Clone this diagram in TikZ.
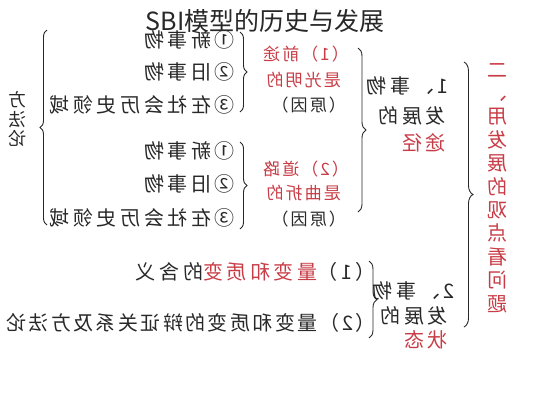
\documentclass[tikz,border=0pt]{standalone}
\usepackage{fontspec}
\usetikzlibrary{decorations.pathreplacing}
\newfontfamily\cjk[LetterSpace=18]{Noto Sans CJK SC}
\newfontfamily\cjkred[LetterSpace=12]{Noto Sans CJK SC}
\newfontfamily\ttl{Noto Sans CJK SC}
\definecolor{ink}{RGB}{40,40,40}
\definecolor{hl}{RGB}{200,60,70}

\begin{document}
\begin{tikzpicture}[x=1pt,y=-1pt,
    mir/.style={xscale=-1,inner sep=0pt},
    row/.style={mir,anchor=west,text=ink,font=\cjk\fontsize{20}{24}\selectfont},
    why/.style={mir,anchor=west,text=hl,font=\cjkred\fontsize{17}{20}\selectfont},
    brc/.style={draw=ink,line width=0.9pt,decorate,decoration={brace,amplitude=#1}},
    brc/.default=7pt]
  \useasboundingbox (0,0) rectangle (533,400);
  \node[font=\ttl\fontsize{25}{29}\selectfont,text=ink] (title) at (265,21) {SBI模型的历史与发展};
  % right column and left column
  \node[mir,text=hl,align=center,font=\cjkred\fontsize{20}{23.4}\selectfont] (topic) at (497,188) {二\\、\\用\\发\\展\\的\\观\\点\\看\\问\\题};
  \node[mir,text=ink,align=center,font=\cjkred\fontsize{18}{19.5}\selectfont] (method) at (17,119) {方\\法\\论};
  % 1, path of development
  \node[row] (way1) at (449,86) {1、事物};
  \node[row] (way2) at (446,116) {发展的};
  \node[row,text=hl] (way3) at (446,143) {途径};
  \node[why] (bright1) at (349,54) {（1）前途};
  \node[why] (bright2) at (341,80) {是光明的};
  \node[why,text=ink] (bright3) at (346,105) {（原因）};
  \node[why] (twist1) at (349,169) {（2）道路};
  \node[why] (twist2) at (341,193) {是曲折的};
  \node[why,text=ink] (twist3) at (346,219) {（原因）};
  \node[row] (newa) at (235,40) {①新事物};
  \node[row] (olda) at (235,72) {②旧事物};
  \node[row] (soca) at (235,105) {③在社会历史领域};
  \node[row] (newb) at (235,151) {①新事物};
  \node[row] (oldb) at (235,184) {②旧事物};
  \node[row] (socb) at (235,218) {③在社会历史领域};
  % 2, state of development
  \node[row] (state1) at (455,291) {2、事物};
  \node[row] (state2) at (448,316) {发展的};
  \node[row,text=hl] (state3) at (448,340) {状态};
  \node[row] (meaning) at (376,272) {（1）\textcolor{hl}{量变和质变}的含义};
  \node[row,font=\cjkred\fontsize{20}{24}\selectfont] (relation) at (376,323) {（2）量变和质变的辩证关系及方法论};
  % braces
  \coordinate (ta) at (464,62);  \coordinate (tb) at (464,327);
  \coordinate (wa) at (358,48);  \coordinate (wb) at (358,212);
  \coordinate (sa) at (369,261); \coordinate (sb) at (369,338);
  \coordinate (pa) at (240,32);  \coordinate (pb) at (240,112);
  \coordinate (qa) at (240,142); \coordinate (qb) at (240,229);
  \coordinate (ma) at (47,225);  \coordinate (mb) at (47,30);
  \draw[brc=9pt] (ta) -- (tb);
  \draw[brc=8pt] (wa) -- (wb);
  \draw[brc=8pt] (sa) -- (sb);
  \draw[brc] (pa) -- (pb);
  \draw[brc] (qa) -- (qb);
  \draw[brc] (ma) -- (mb);
\end{tikzpicture}
\end{document}
